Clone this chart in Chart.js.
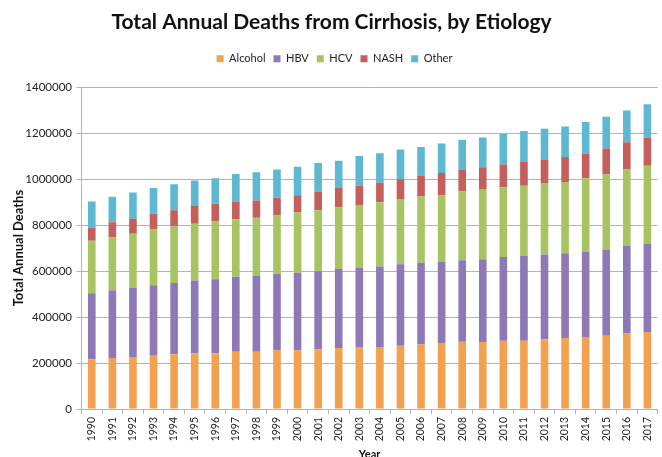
<!DOCTYPE html>
<html>
<head>
<meta charset="utf-8">
<script src="https://cdn.jsdelivr.net/npm/chart.js@4"></script>
<style>
  html, body { margin: 0; padding: 0; background: #ffffff; }
  #wrap { width: 662px; height: 457px; overflow: hidden; position: relative; }
  canvas { display: block; }
</style>
</head>
<body>
<div id="wrap"><canvas id="chart" width="663" height="464"></canvas></div>
<script>
// Cirrhosis deaths per year, split by etiology
const years = ['1990','1991','1992','1993','1994','1995','1996','1997','1998','1999',
  '2000','2001','2002','2003','2004','2005','2006','2007','2008','2009',
  '2010','2011','2012','2013','2014','2015','2016','2017'];

const alcohol = [216000,222000,226000,232000,238000,243000,243000,249000,249000,254000,
  254000,259000,265000,270000,270000,275000,281000,287000,293000,291000,
  297000,297000,303000,309000,313000,319000,329000,335000];
const hbv = [288000,295000,302000,306000,310000,316000,322000,326000,332000,333000,
  339000,340000,344000,344000,350000,355000,355000,353000,354000,360000,
  364000,370000,369000,369000,370000,375000,381000,385000];
const hcv = [228000,229000,234000,243000,246000,247000,251000,251000,251000,255000,
  262000,266000,268000,273000,279000,284000,289000,290000,299000,306000,
  304000,304000,311000,310000,321000,326000,332000,338000];
const nash = [58000,66000,66000,68000,71000,77000,77000,77000,75000,77000,
  75000,81000,85000,85000,85000,86000,91000,97000,96000,95000,
  99000,104000,103000,108000,108000,113000,119000,123000];
const other = [113000,111000,114000,113000,113000,111000,111000,119000,123000,123000,
  124000,124000,118000,129000,129000,129000,124000,128000,129000,129000,
  133000,134000,133000,133000,137000,138000,138000,145000];

const yMax = 1400000;
const yStep = 200000;

const FONT = 'Lato, "Open Sans", sans-serif';
const gridGray = '#b4b4b4';

function series(label, data, color) {
  return {
    label, data,
    backgroundColor: color,
    borderWidth: 0,
    barPercentage: 0.37,
    categoryPercentage: 1.0
  };
}

// Leave extra room below the legend row and nudge the row sideways
const legendSpacing = {
  id: 'legendSpacing',
  afterInit(chart) {
    const legend = chart.legend;
    if (!legend) return;
    const fit = legend.fit.bind(legend);
    legend.fit = function () {
      fit();
      this.height += 13;
    };
  },
  afterLayout(chart) {
    const legend = chart.legend;
    if (!legend) return;
    legend.left += 3;
    legend.right += 3;
  }
};

new Chart(document.getElementById('chart'), {
  type: 'bar',
  data: {
    labels: years,
    datasets: [
      series('Alcohol', alcohol, '#F2A24F'),
      series('HBV', hbv, '#8C79B5'),
      series('HCV', hcv, '#A8C361'),
      series('NASH', nash, '#C45F5C'),
      series('Other', other, '#5FB8D1')
    ]
  },
  plugins: [legendSpacing],
  options: {
    responsive: false,
    animation: false,
    devicePixelRatio: 1,
    layout: { padding: { left: 0, right: 0, top: 0, bottom: 0 } },
    plugins: {
      title: {
        display: true,
        text: 'Total Annual Deaths from Cirrhosis, by Etiology',
        color: '#111111',
        font: { family: FONT, size: 21, weight: 'bold' },
        padding: { top: 10, bottom: 10 }
      },
      legend: {
        position: 'top',
        labels: {
          color: '#222222',
          font: { family: FONT, size: 11 },
          boxWidth: 7,
          boxHeight: 7,
          padding: 8
        }
      },
      tooltip: { enabled: false }
    },
    scales: {
      x: {
        stacked: true,
        afterFit(scale) { scale.height = 55; },
        grid: {
          offset: true,
          drawOnChartArea: false,
          color: gridGray,
          tickLength: 5
        },
        border: { color: gridGray },
        ticks: {
          color: '#222222',
          font: { family: FONT, size: 10.5 },
          minRotation: 90,
          maxRotation: 90,
          padding: 3,
          autoSkip: false
        },
        title: {
          display: true,
          text: 'Year',
          color: '#111111',
          font: { family: FONT, size: 11, weight: 'bold' },
          padding: { top: 2, bottom: 3 }
        }
      },
      y: {
        stacked: true,
        min: 0,
        max: yMax,
        afterFit(scale) { scale.width = 81.5; },
        grid: {
          color: gridGray,
          tickLength: 5
        },
        border: { color: gridGray },
        ticks: {
          stepSize: yStep,
          color: '#222222',
          font: { family: FONT, size: 11.5 },
          padding: 4.5,
          callback: (v) => String(v)
        },
        title: {
          display: true,
          text: 'Total Annual Deaths',
          color: '#111111',
          font: { family: FONT, size: 13, weight: 'bold' },
          padding: { top: 11, bottom: 4 }
        }
      }
    }
  }
});
</script>
</body>
</html>
